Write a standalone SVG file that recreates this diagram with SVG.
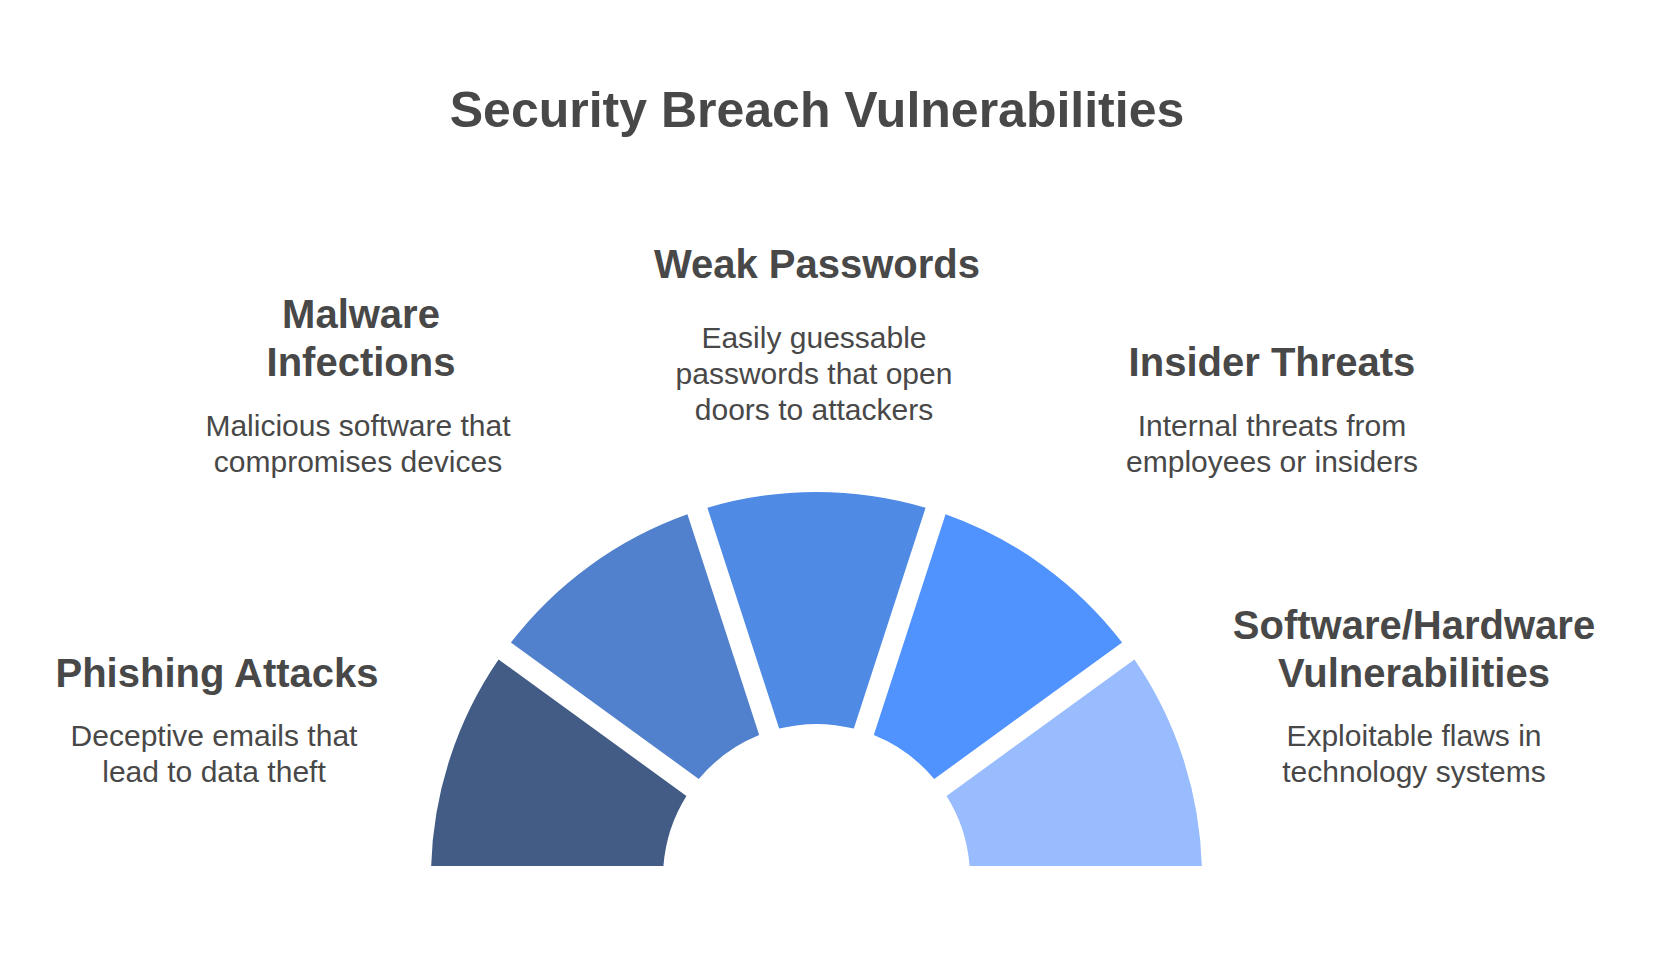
<svg xmlns="http://www.w3.org/2000/svg" width="1658" height="963" viewBox="0 0 1658 963">
<style>
.t{font-family:"Liberation Sans",Arial,sans-serif;font-weight:bold;font-size:50px;fill:#484848;text-anchor:middle}
.h{font-family:"Liberation Sans",Arial,sans-serif;font-weight:bold;font-size:40px;fill:#484848;text-anchor:middle}
.d{font-family:"Liberation Sans",Arial,sans-serif;font-size:30px;fill:#484848;text-anchor:middle}
</style>
<rect width="1658" height="963" fill="#ffffff"/>
<text class="t" x="817" y="127">Security Breach Vulnerabilities</text>
<g id="phishing">
<path d="M431.17 866 A385.5 385.5 0 0 1 498.57 659.49 L686.43 795.98 A153.5 153.5 0 0 0 663.43 866 Z" fill="#425C86"/>
<text class="h" x="217" y="687">Phishing Attacks</text>
<text class="d" x="214" y="745.5">Deceptive emails that</text>
<text class="d" x="214" y="781.5">lead to data theft</text>
</g>
<g id="malware">
<path d="M510.91 642.5 A385.5 385.5 0 0 1 687.43 514.25 L759.19 735.1 A153.5 153.5 0 0 0 698.78 778.99 Z" fill="#5181CC"/>
<text class="h" x="361" y="327.5">Malware</text>
<text class="h" x="361" y="375.5">Infections</text>
<text class="d" x="358" y="436">Malicious software that</text>
<text class="d" x="358" y="472">compromises devices</text>
</g>
<g id="weak-passwords">
<path d="M707.4 507.76 A385.5 385.5 0 0 1 925.6 507.76 L853.84 728.61 A153.5 153.5 0 0 0 779.16 728.61 Z" fill="#4F8AE5"/>
<text class="h" x="817" y="278">Weak Passwords</text>
<text class="d" x="814" y="348">Easily guessable</text>
<text class="d" x="814" y="384">passwords that open</text>
<text class="d" x="814" y="420">doors to attackers</text>
</g>
<g id="insider-threats">
<path d="M945.57 514.25 A385.5 385.5 0 0 1 1122.09 642.5 L934.22 778.99 A153.5 153.5 0 0 0 873.81 735.1 Z" fill="#5092FE"/>
<text class="h" x="1272" y="375.5">Insider Threats</text>
<text class="d" x="1272" y="436">Internal threats from</text>
<text class="d" x="1272" y="472">employees or insiders</text>
</g>
<g id="software-hardware">
<path d="M1134.43 659.49 A385.5 385.5 0 0 1 1201.83 866 L969.57 866 A153.5 153.5 0 0 0 946.57 795.98 Z" fill="#98BCFE"/>
<text class="h" x="1414" y="639">Software/Hardware</text>
<text class="h" x="1414" y="687">Vulnerabilities</text>
<text class="d" x="1414" y="745.5">Exploitable flaws in</text>
<text class="d" x="1414" y="781.5">technology systems</text>
</g>
</svg>
